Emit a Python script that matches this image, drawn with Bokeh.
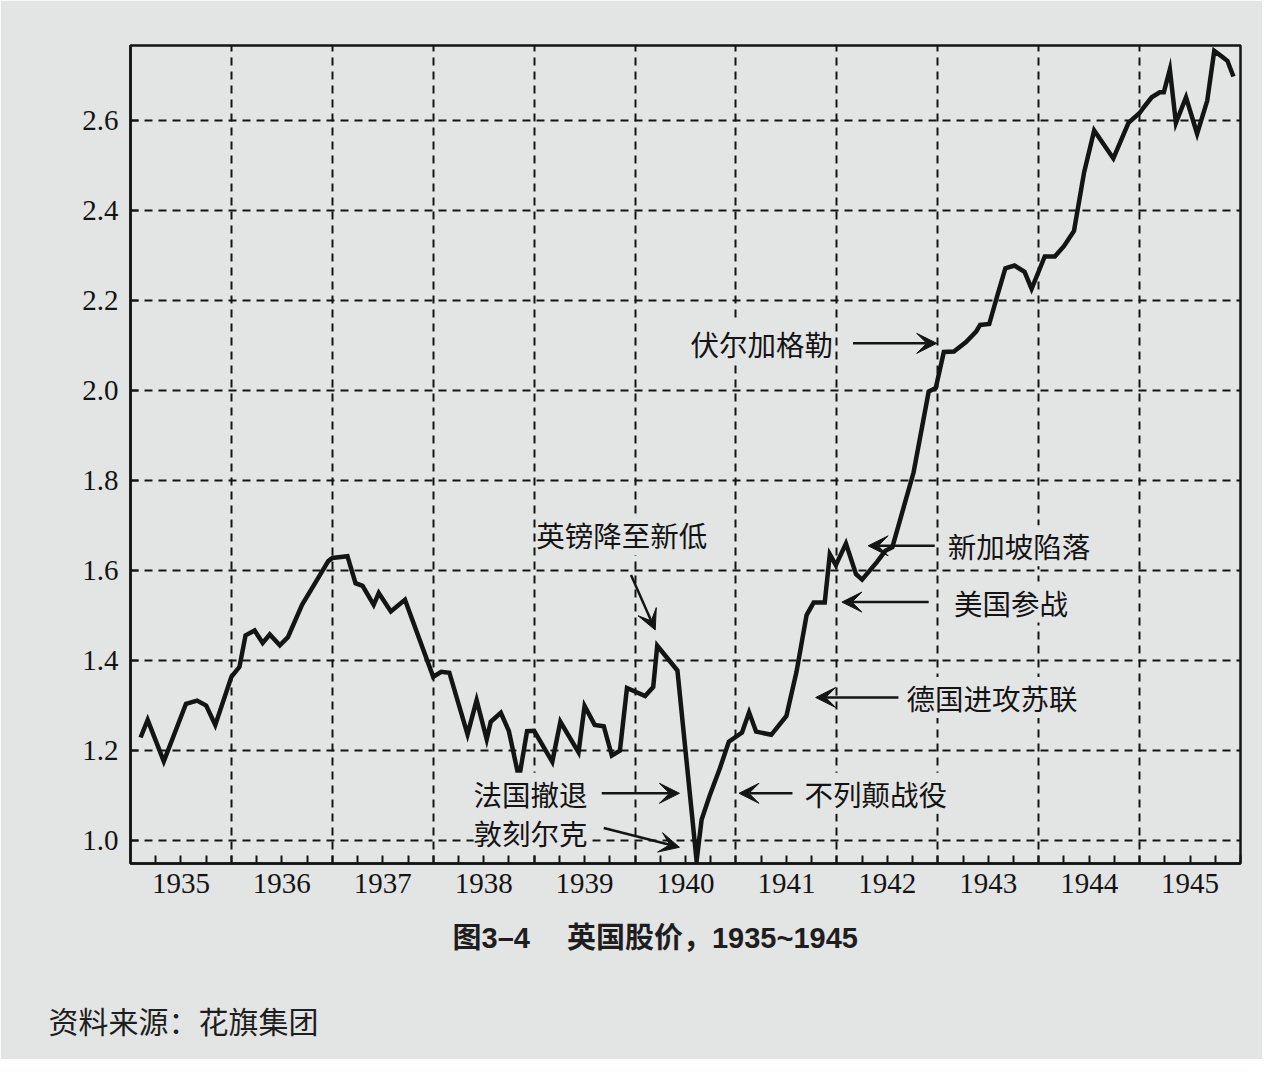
from bokeh.plotting import figure
from bokeh.models import (FixedTicker, PrintfTickFormatter, CustomJSTickFormatter,
                          Arrow, VeeHead, Label, Range1d, ColumnDataSource, Title)
from bokeh.embed import file_html
from bokeh.resources import INLINE

# ---- data ----
years = [1935.10, 1935.17, 1935.33, 1935.55, 1935.66, 1935.75, 1935.84,
         1936.00, 1936.08, 1936.14, 1936.23, 1936.31, 1936.38, 1936.48, 1936.56,
         1936.70, 1936.81, 1936.96, 1937.00, 1937.15, 1937.23, 1937.30, 1937.41,
         1937.46, 1937.58, 1937.72, 1938.00, 1938.08, 1938.16, 1938.34, 1938.43,
         1938.53, 1938.57, 1938.67, 1938.75, 1938.85, 1938.93, 1939.00, 1939.18,
         1939.26, 1939.44, 1939.50, 1939.60, 1939.69, 1939.77, 1939.85, 1939.92,
         1940.10, 1940.18, 1940.22, 1940.42, 1940.61, 1940.66, 1940.74, 1940.84,
         1940.93, 1941.06, 1941.13, 1941.20, 1941.35, 1941.50, 1941.60, 1941.70,
         1941.77, 1941.88, 1941.93, 1941.99, 1942.09, 1942.19, 1942.25, 1942.40,
         1942.48, 1942.55, 1942.67, 1942.76, 1942.91, 1942.98, 1943.06, 1943.16,
         1943.28, 1943.38, 1943.42, 1943.51, 1943.59, 1943.67, 1943.76, 1943.86,
         1943.93, 1944.06, 1944.16, 1944.25, 1944.35, 1944.45, 1944.55, 1944.74,
         1944.89, 1945.00, 1945.05, 1945.12, 1945.20, 1945.24, 1945.30, 1945.36,
         1945.46, 1945.57, 1945.67, 1945.74, 1945.80, 1945.87, 1945.93]
index_values = [1.229, 1.268, 1.176, 1.304, 1.311, 1.300, 1.257,
                1.364, 1.386, 1.456, 1.467, 1.439, 1.458, 1.434, 1.452,
                1.524, 1.565, 1.621, 1.628, 1.632, 1.572, 1.566, 1.524,
                1.550, 1.509, 1.535, 1.364, 1.375, 1.373, 1.236, 1.312,
                1.225, 1.264, 1.284, 1.243, 1.138, 1.243, 1.244, 1.175,
                1.264, 1.196, 1.299, 1.257, 1.254, 1.189, 1.200, 1.339,
                1.321, 1.341, 1.433, 1.378, 0.955, 1.047, 1.100, 1.160,
                1.220, 1.240, 1.285, 1.242, 1.235, 1.277, 1.375, 1.501,
                1.529, 1.529, 1.636, 1.612, 1.660, 1.592, 1.580, 1.620,
                1.644, 1.652, 1.747, 1.818, 1.998, 2.006, 2.086, 2.087,
                2.108, 2.131, 2.146, 2.148, 2.211, 2.272, 2.278, 2.264,
                2.226, 2.298, 2.298, 2.321, 2.355, 2.485, 2.578, 2.516,
                2.595, 2.617, 2.632, 2.652, 2.663, 2.663, 2.714, 2.595,
                2.652, 2.571, 2.644, 2.755, 2.745, 2.733, 2.698]

y_ticks = [1.0, 1.2, 1.4, 1.6, 1.8, 2.0, 2.2, 2.4, 2.6]
year_labels = [1935, 1936, 1937, 1938, 1939, 1940, 1941, 1942, 1943, 1944, 1945]

# annotations: text, text-left x, y, arrow start (x, y), arrow end (x, y)
notes = [
    ("英镑降至新低", 1939.02, 1.680, 1939.96, 1.590, 1940.20, 1.468),
    ("法国撤退", 1938.40, 1.105, 1939.67, 1.105, 1940.44, 1.105),
    ("敦刻尔克", 1938.40, 1.018, 1939.69, 1.028, 1940.44, 0.985),
    ("不列颠战役", 1941.68, 1.105, 1941.56, 1.105, 1941.03, 1.105),
    ("德国进攻苏联", 1942.69, 1.318, 1942.61, 1.318, 1941.79, 1.318),
    ("美国参战", 1943.16, 1.530, 1942.91, 1.530, 1942.05, 1.530),
    ("新加坡陷落", 1943.10, 1.655, 1942.97, 1.655, 1942.31, 1.655),
    ("伏尔加格勒", 1940.55, 2.105, 1942.16, 2.105, 1942.99, 2.105),
]

caption = "图3–4 　英国股价，1935~1945"
source_note = "资料来源：花旗集团"

PAPER = "#e3e5e4"
INK = "#141414"

p = figure(frame_width=1110, frame_height=818, output_backend="svg", toolbar_location=None,
           x_range=Range1d(1935.0, 1946.0), y_range=Range1d(0.949, 2.767),
           min_border_left=130, min_border_right=22, min_border_top=45,
           min_border_bottom=10)
p.background_fill_color = PAPER
p.border_fill_color = PAPER
p.outline_line_color = INK
p.outline_line_width = 2.5

src = ColumnDataSource(dict(x=years, y=index_values))
p.line("x", "y", source=src, line_color=INK, line_width=4.5, line_join="miter")

# x axis: labels at mid-year, ticks every quarter, grid at year boundaries
mids = [y + 0.5 for y in year_labels]
quarters = [y + q for y in year_labels for q in (0.25, 0.75, 1.0)]
p.xaxis.ticker = FixedTicker(ticks=mids, minor_ticks=quarters)
p.xaxis.formatter = CustomJSTickFormatter(code="return Math.floor(tick).toString();")
p.xgrid.ticker = FixedTicker(ticks=year_labels[1:])
p.yaxis.ticker = FixedTicker(ticks=y_ticks)
p.yaxis.formatter = PrintfTickFormatter(format="%.1f")

for ax in (p.xaxis[0], p.yaxis[0]):
    ax.axis_line_color = INK
    ax.axis_line_width = 2.5
    ax.major_tick_line_color = INK
    ax.major_tick_line_width = 2
    ax.minor_tick_line_color = INK
    ax.minor_tick_line_width = 2
    ax.major_tick_in = 8
    ax.major_tick_out = 0
    ax.minor_tick_in = 8
    ax.minor_tick_out = 0
    ax.major_label_text_font = "Liberation Serif"
    ax.major_label_text_font_size = "29px"
    ax.major_label_text_color = INK
p.yaxis.minor_tick_line_color = None
p.xaxis.major_label_standoff = 10
p.yaxis.major_label_standoff = 12

for g in (p.xgrid[0], p.ygrid[0]):
    g.grid_line_color = INK
    g.grid_line_width = 2
    g.grid_line_dash = "8 6"

for text, tx, ty, xs, ys, xe, ye in notes:
    p.add_layout(Label(x=tx, y=ty, text=text, text_font="Noto Sans CJK SC",
                       text_font_size="28.5px", text_color=INK,
                       text_align="left", text_baseline="middle",
                       background_fill_color=PAPER))
    p.add_layout(Arrow(x_start=xs, y_start=ys, x_end=xe, y_end=ye,
                       line_color=INK, line_width=2.5,
                       end=VeeHead(size=20, fill_color=INK, line_color=INK, line_width=1)))

p.add_layout(Title(text=caption, align="left", offset=322, standoff=48,
                   text_font="Liberation Sans, Noto Sans CJK SC", text_font_size="29px",
                   text_font_style="bold", text_color="#1e1e1e"), "below")
p.add_layout(Title(text=source_note, align="left", offset=-82, standoff=36,
                   text_font="Noto Sans CJK SC", text_font_size="30px",
                   text_font_style="normal", text_color="#1e1e1e"), "below")

open("out.html", "w").write(file_html(p, INLINE))
